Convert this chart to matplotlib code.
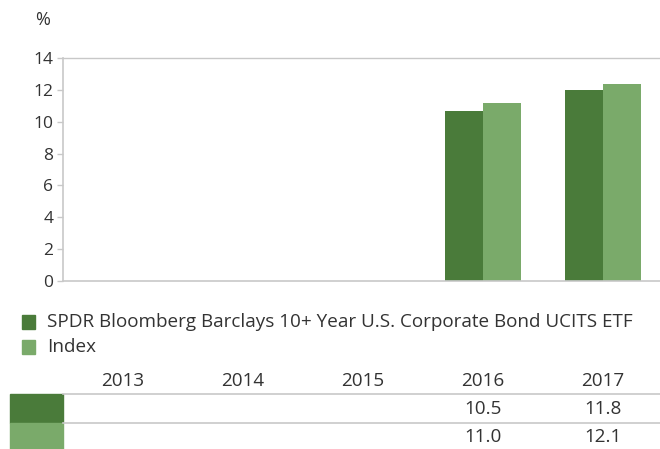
import numpy as np
import matplotlib.pyplot as plt
import matplotlib.transforms as mtransforms
from matplotlib.patches import Rectangle
from matplotlib.lines import Line2D

plt.rcParams['font.family'] = ['Open Sans', 'DejaVu Sans']

# Data
years = ['2013', '2014', '2015', '2016', '2017']
etf_bars = [np.nan, np.nan, np.nan, 10.7, 12.0]
index_bars = [np.nan, np.nan, np.nan, 11.2, 12.35]
etf_table = ['', '', '', '10.5', '11.8']
index_table = ['', '', '', '11.0', '12.1']
series_names = ['SPDR Bloomberg Barclays 10+ Year U.S. Corporate Bond UCITS ETF', 'Index']
y_ticks = [0, 2, 4, 6, 8, 10, 12, 14]

dark = '#4a7b3a'
light = '#7aaa6a'
grey = '#c8c8c8'
text_c = '#333333'

W, H = 660, 449
fig = plt.figure(figsize=(W / 100, H / 100), dpi=100)
ax = fig.add_axes([63 / W, 1 - 281 / H, 600 / W, 223 / H])

x = np.arange(len(years))
bw = 0.317
ax.bar(x - bw / 2, etf_bars, bw, color=dark)
ax.bar(x + bw / 2, index_bars, bw, color=light)

ax.set_xlim(-0.5, len(years) - 0.5)
ax.set_ylim(0, 14)
ax.set_yticks(y_ticks)
ax.set_xticks([])
ax.tick_params(axis='y', length=4, width=1, color=grey, labelsize=12.5, labelcolor=text_c, pad=3)
ax.spines['right'].set_visible(False)
for s in ['left', 'bottom', 'top']:
    ax.spines[s].set_color(grey)
    ax.spines[s].set_linewidth(1.2)
ax.spines['top'].set_linewidth(1.0)

fig.text(43 / W, 1 - 20 / H, '%', fontsize=13, color=text_c, ha='center', va='center')

# Legend
for i, (name, col) in enumerate(zip(series_names, [dark, light])):
    yc = 322 + i * 25
    fig.patches.append(Rectangle((22 / W, 1 - (yc + 7) / H), 13 / W, 14 / H,
                                 transform=fig.transFigure, color=col))
    fig.text(47 / W, 1 - yc / H, name, fontsize=13.6, color=text_c, va='center', ha='left')

# Table under the chart
trans = mtransforms.blended_transform_factory(ax.transData, fig.transFigure)
for i, yr in enumerate(years):
    fig.text(x[i], 1 - 381 / H, yr, transform=trans, fontsize=13.6, color=text_c,
             ha='center', va='center')
    fig.text(x[i], 1 - 409 / H, etf_table[i], transform=trans, fontsize=13.6, color=text_c,
             ha='center', va='center')
    fig.text(x[i], 1 - 437 / H, index_table[i], transform=trans, fontsize=13.6, color=text_c,
             ha='center', va='center')

for yl in [394, 423]:
    fig.lines.append(Line2D([63 / W, 1], [1 - yl / H, 1 - yl / H], transform=fig.transFigure,
                            color=grey, lw=1.2))
fig.patches.append(Rectangle((10 / W, 1 - 423 / H), 53 / W, 29 / H, transform=fig.transFigure, color=dark))
fig.patches.append(Rectangle((10 / W, 1 - 449 / H), 53 / W, 26 / H, transform=fig.transFigure, color=light))

fig.savefig('out.png', dpi=100)
